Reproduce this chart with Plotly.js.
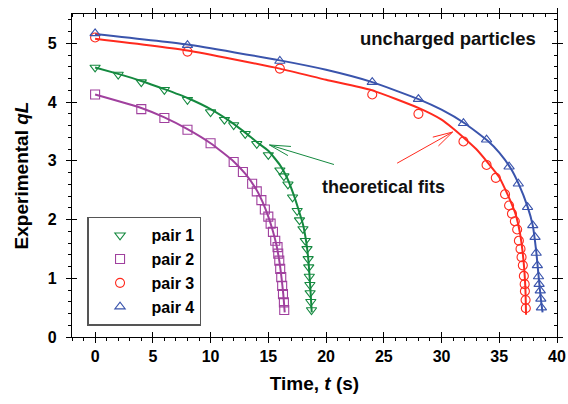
<!DOCTYPE html>
<html><head><meta charset="utf-8">
<script src="https://cdn.plot.ly/plotly-3.0.1.min.js"></script>
<style>html,body{margin:0;padding:0;background:#fff}#chart{width:568px;height:404px}</style>
</head><body><div id="chart"></div>
<script>
// Measured data (time in s, experimental qL)
const pair1T = [0,2,4,6,8,10,11.2,12,13,14,15,16,16.35,16.7,17.1,17.5,17.7,18.0,18.2,18.35,18.45,18.5,18.55,18.6,18.62,18.68,18.74];
const pair1Q = [4.59,4.47,4.34,4.21,4.04,3.83,3.70,3.61,3.46,3.29,3.10,2.84,2.74,2.60,2.38,2.15,1.99,1.84,1.64,1.50,1.33,1.19,1.03,0.89,0.75,0.60,0.46];
const pair2T = [0,4,6,8,10,12,12.8,13.6,14,14.4,14.7,15,15.2,15.4,15.6,15.8,15.86,15.95,16.03,16.12,16.2,16.27,16.35,16.38];
const pair2Q = [4.13,3.88,3.73,3.53,3.30,2.98,2.81,2.61,2.48,2.33,2.17,2.05,1.93,1.79,1.64,1.53,1.42,1.30,1.16,1.02,0.87,0.73,0.59,0.46];
const pair3T = [0,8,16,24,28,31.9,33.9,34.7,35.5,35.85,36.1,36.35,36.55,36.7,36.84,36.93,37.04,37.13,37.2,37.22,37.28,37.3];
const pair3Q = [5.10,4.86,4.57,4.13,3.80,3.33,2.93,2.71,2.43,2.24,2.10,1.97,1.83,1.64,1.50,1.36,1.22,1.04,0.90,0.78,0.63,0.49];
const pair4T = [0,8,16,24,28,31.9,33.9,35.85,36.65,37.45,37.9,38.1,38.2,38.3,38.4,38.45,38.55,38.6,38.65];
const pair4Q = [5.17,4.97,4.70,4.34,4.05,3.64,3.36,2.90,2.61,2.21,1.90,1.70,1.43,1.22,1.03,0.90,0.79,0.65,0.50];

// Theoretical fit curves
const fit1T = [0,2,4,6,8,10,12,13,14,15,16,16.6,17.2,17.6,18.0,18.3,18.45,18.55,18.65,18.76];
const fit1Q = [4.59,4.48,4.36,4.22,4.07,3.88,3.63,3.48,3.32,3.17,2.93,2.72,2.42,2.18,1.92,1.60,1.35,1.10,0.80,0.42];
const fit2T = [0,4,6,8,10,12,13,14,14.5,15,15.4,15.7,15.95,16.15,16.3,16.42];
const fit2Q = [4.13,3.90,3.74,3.54,3.30,2.99,2.78,2.50,2.30,2.05,1.80,1.57,1.30,1.00,0.72,0.42];
const fit3T = [0,8,16,20,24,28,30,31,32,33,34,35,35.55,36,36.4,36.8,37.1,37.26,37.32];
const fit3Q = [5.08,4.88,4.57,4.38,4.20,3.90,3.70,3.55,3.38,3.20,2.97,2.72,2.50,2.30,2.10,1.76,1.30,0.84,0.38];
const fit4T = [0,8,16,20,24,28,30,32,34,35,36,36.65,37.45,37.9,38.2,38.4,38.6,38.75];
const fit4Q = [5.16,4.98,4.71,4.55,4.34,4.05,3.87,3.64,3.34,3.14,2.87,2.62,2.22,1.90,1.46,1.05,0.65,0.42];

const seriesNames = ['pair 1','pair 2','pair 3','pair 4'];
const xTickVals = [0,5,10,15,20,25,30,35,40];
const yTickVals = [0,1,2,3,4,5];

const colors = ['#14893f','#a0409e','#ff2a1e','#3a54ac'];
const symbols = ['triangle-down-open','square-open','circle-open','triangle-up-open'];
const FONT = 'Arial, "Liberation Sans", sans-serif';

const pts = [[pair1T,pair1Q],[pair2T,pair2Q],[pair3T,pair3Q],[pair4T,pair4Q]];
const fits = [[fit1T,fit1Q],[fit2T,fit2Q],[fit3T,fit3Q],[fit4T,fit4Q]];

const traces = [];
fits.forEach((f,i)=>traces.push({x:f[0],y:f[1],mode:'lines',line:{color:colors[i],width:2,shape:'spline',smoothing:0.5},showlegend:false,hoverinfo:'skip'}));
pts.forEach((p,i)=>traces.push({x:p[0],y:p[1],mode:'markers',name:seriesNames[i],
  marker:{symbol:symbols[i],size:9,color:colors[i],line:{width:1.1,color:colors[i]}}}));
// empty helper traces so that the extra tick axes are drawn
[['x2','y'],['x3','y'],['x4','y'],['x','y2'],['x','y3'],['x','y4']].forEach(a=>traces.push({x:[],y:[],xaxis:a[0],yaxis:a[1],showlegend:false,hoverinfo:'skip'}));

const XR=[-2,40], YR=[0,5.5];
const tickFont={family:FONT,size:16,color:'#000',weight:'bold'};
const baseX={range:XR,tickmode:'array',tickvals:xTickVals,showgrid:false,zeroline:false,tickcolor:'#000',tickwidth:1,ticklen:5};
const baseY={range:YR,tickmode:'array',tickvals:yTickVals,showgrid:false,zeroline:false,tickcolor:'#000',tickwidth:1,ticklen:5};

const arrowBase={showarrow:true,text:'',arrowhead:0,arrowwidth:1,axref:'pixel',ayref:'pixel',xref:'x',yref:'y'};
function arrow(x,y,ax,ay,color){return Object.assign({},arrowBase,{x:x,y:y,ax:ax,ay:ay,arrowcolor:color});}

const layout={
  width:568,height:404,
  margin:{l:72,r:11,t:14,b:67},
  paper_bgcolor:'#fff',plot_bgcolor:'#fff',
  font:{family:FONT,color:'#000'},
  showlegend:true,
  legend:{x:0.031,y:0.372,xanchor:'left',yanchor:'top',bgcolor:'#fff',bordercolor:'#555',borderwidth:1.5,
    font:{family:FONT,size:16,color:'#000',weight:'bold'},itemwidth:53,tracegroupgap:0},
  xaxis:Object.assign({},baseX,{ticks:'outside',showline:true,linecolor:'#000',linewidth:1.2,mirror:true,
    tickfont:tickFont,minor:{ticks:'outside',ticklen:3,dtick:1,tick0:0,tickcolor:'#000',tickwidth:1},
    title:{text:'<b>Time, <i>t</i> (s)</b>',font:{family:FONT,size:19,color:'#000'},standoff:12}}),
  xaxis2:Object.assign({},baseX,{overlaying:'x',anchor:'y',side:'bottom',ticks:'inside',showticklabels:false,showline:false}),
  xaxis3:Object.assign({},baseX,{overlaying:'x',anchor:'y',side:'top',ticks:'outside',showticklabels:false,showline:false,
    minor:{ticks:'inside',ticklen:3,dtick:1,tick0:0,tickcolor:'#000',tickwidth:1}}),
  xaxis4:Object.assign({},baseX,{overlaying:'x',anchor:'y',side:'top',ticks:'inside',showticklabels:false,showline:false}),
  yaxis:Object.assign({},baseY,{ticks:'outside',showline:true,linecolor:'#000',linewidth:1.2,mirror:true,
    tickfont:tickFont,ticklabelstandoff:6,minor:{ticks:'outside',ticklen:3,dtick:0.2,tick0:0,tickcolor:'#000',tickwidth:1},
    title:{text:'<b>Experimental <i>qL</i></b>',font:{family:FONT,size:19,color:'#000'},standoff:14}}),
  yaxis2:Object.assign({},baseY,{overlaying:'y',anchor:'x',side:'left',ticks:'inside',showticklabels:false,showline:false}),
  yaxis3:Object.assign({},baseY,{overlaying:'y',anchor:'x',side:'right',ticks:'outside',showticklabels:false,showline:false,
    minor:{ticks:'inside',ticklen:3,dtick:0.2,tick0:0,tickcolor:'#000',tickwidth:1}}),
  yaxis4:Object.assign({},baseY,{overlaying:'y',anchor:'x',side:'right',ticks:'inside',showticklabels:false,showline:false}),
  annotations:[
    {text:'<b>uncharged particles</b>',x:30.6,y:5.08,xref:'x',yref:'y',showarrow:false,font:{family:FONT,size:18.5,color:'#111'},xanchor:'center',yanchor:'middle'},
    {text:'<b>theoretical fits</b>',x:25,y:2.56,xref:'x',yref:'y',showarrow:false,font:{family:FONT,size:18,color:'#111'},xanchor:'center',yanchor:'middle'},
    // green arrow
    arrow(15.1,3.27,66,20,'#14893f'),
    arrow(15.1,3.27,23,1.6,'#14893f'),
    arrow(15.1,3.27,20,11.5,'#14893f'),
    // red arrow
    arrow(30.96,3.49,-57,32,'#ff2a1e'),
    arrow(30.96,3.49,-21.3,5.5,'#ff2a1e'),
    arrow(30.96,3.49,-15.7,15.4,'#ff2a1e')
  ]
};
Plotly.newPlot('chart',traces,layout,{staticPlot:true,displayModeBar:false});
</script></body></html>
